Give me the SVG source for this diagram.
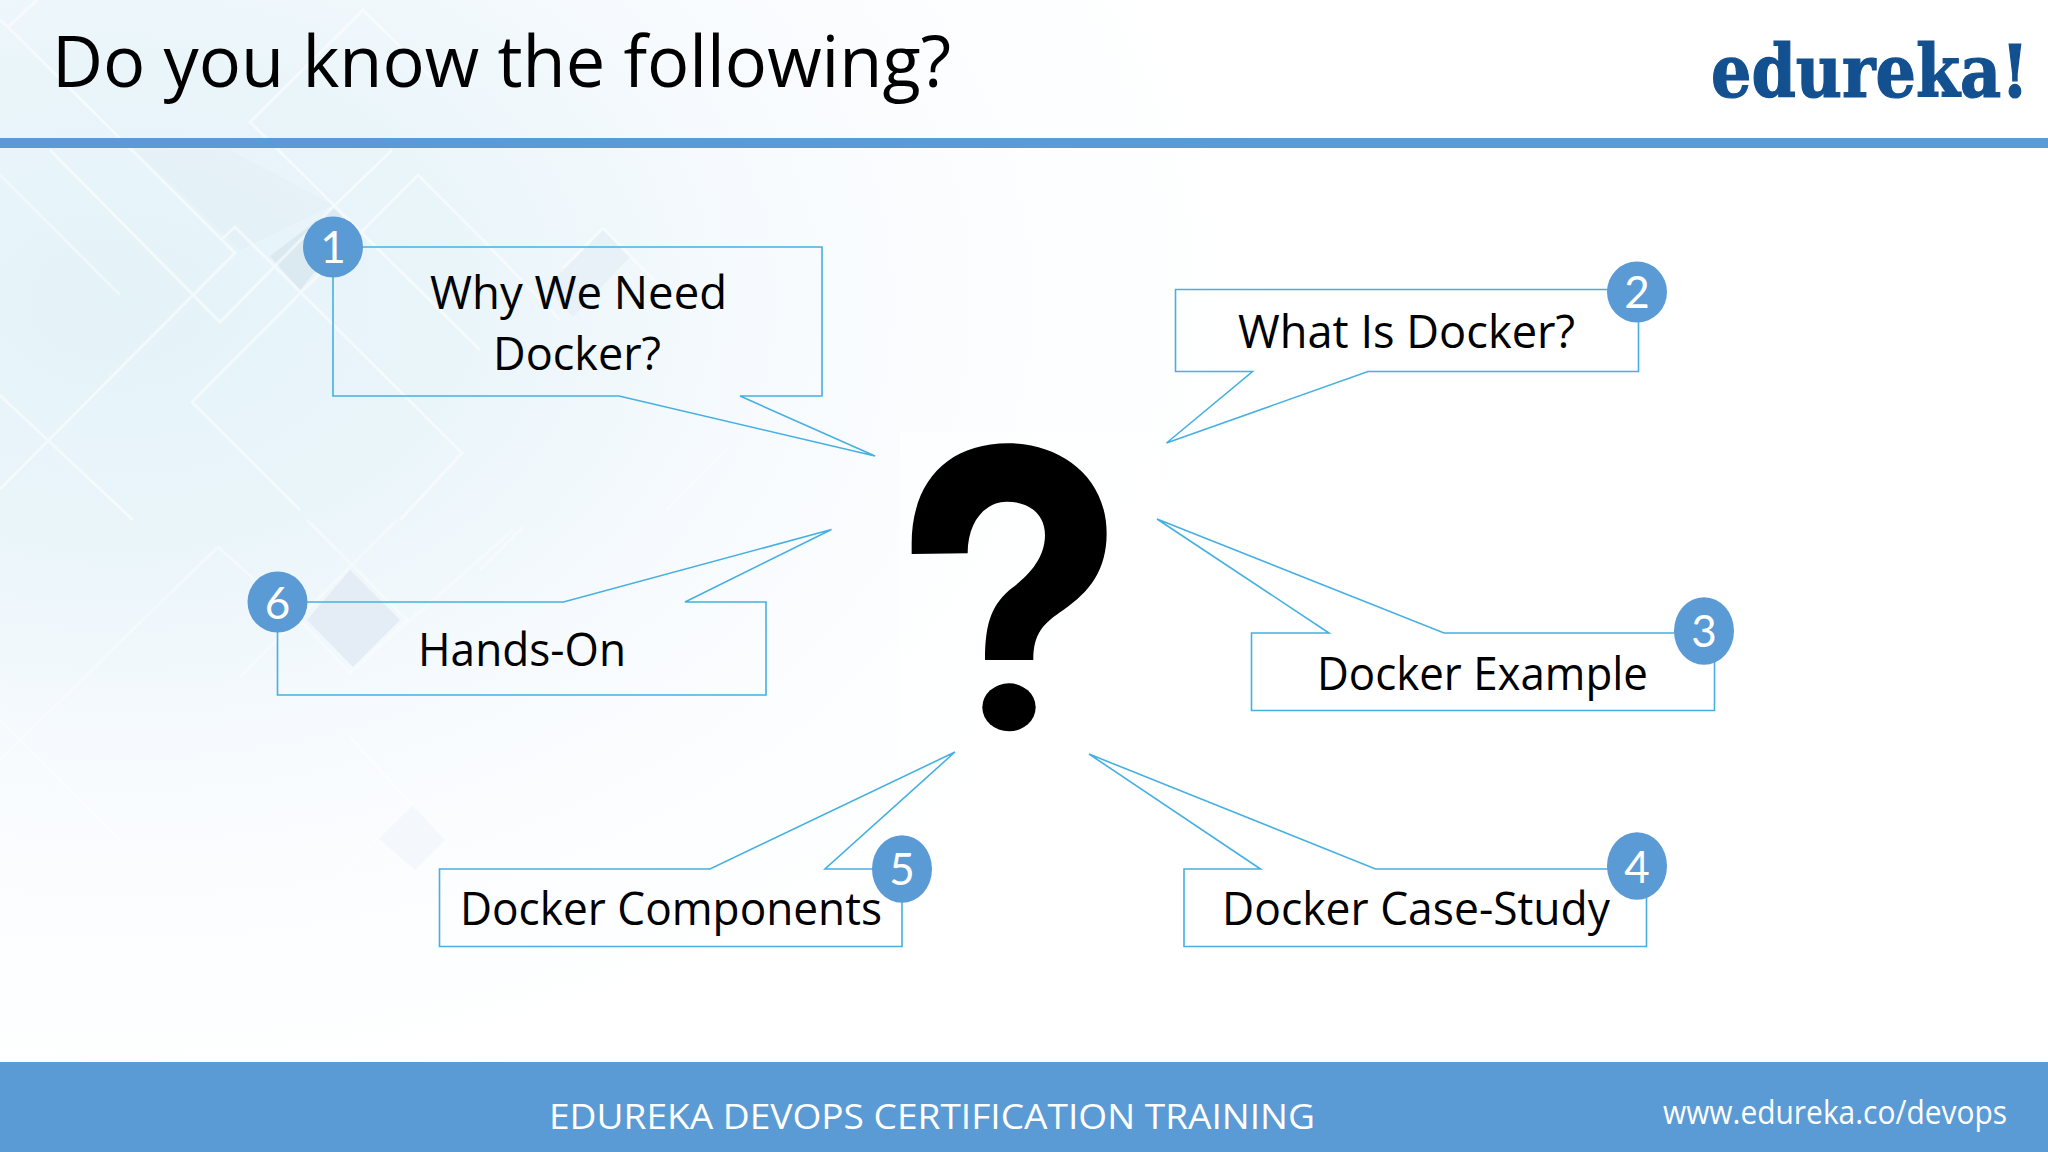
<svg xmlns="http://www.w3.org/2000/svg" width="2048" height="1152" viewBox="0 0 2048 1152">
<style>
.c{fill:none;stroke:#45b0e1;stroke-width:1.6}
.t{font-family:"Open Sans","Noto Sans",sans-serif;font-size:45px;fill:#000}
.n{font-family:"Lato","Noto Sans",sans-serif;font-size:44px;fill:#fff;text-anchor:middle}
.b{fill:#5b9bd5}
.d{fill:none;stroke:#fff;stroke-width:3}
</style>
<defs>
<radialGradient id="bg" gradientUnits="userSpaceOnUse" cx="120" cy="300" r="1150" gradientTransform="translate(0 90) scale(1 .7)">
<stop offset="0" stop-color="#e4f3f8"/><stop offset=".3" stop-color="#eaf5fa"/><stop offset=".6" stop-color="#f8fbfe"/><stop offset=".85" stop-color="#fdfeff"/><stop offset="1" stop-color="#fff"/>
</radialGradient>
</defs>
<rect width="2048" height="1152" fill="#fff"/>
<rect width="2048" height="1062" fill="url(#bg)"/>
<g id="background">
<path fill="#dbe7ef" opacity=".2" d="M230 150L333 205L240 250L135 150Z"/>
<path fill="#d3e1ea" opacity=".6" d="M333 208L352 226L300 290L270 256Z"/>
<path fill="#e1e9f3" opacity=".45" d="M603 230L630 257L573 317L547 287Z"/>
<path fill="#e2ebf5" opacity=".9" d="M350 570L400 620L353 667L307 620Z"/>
<path fill="#eef3f9" opacity=".5" d="M412 805L445 840L415 870L378 838Z"/>
<g opacity=".55">
<path class="d" d="M0 20L8 27L235 253L7 482L0 489M8 27L37 0"/>
<path class="d" d="M50 150L220 322L333 207L392 150"/>
<path class="d" d="M223 238L235 227L462 453L400 520"/>
<path class="d" d="M300 510L192 402L418 175L480 237L560 320"/>
<path class="d" d="M0 395L7 402L133 520"/>
<path class="d" d="M437 83L363 10L250 122L480 350"/>
<path class="d" d="M603 228L563 268M603 228L680 307"/>
</g>
<g opacity=".4">
<path class="d" d="M397 520L240 677M307 520L407 620L350 673L300 620M350 673L513 530"/>
<path class="d" d="M218 547L160 603L0 760M218 547L300 620M728 447L667 510M523 527L480 570"/>
<path class="d" d="M350 737L412 805L277 937M707 777L647 840M0 720L120 840"/>
<path class="d" d="M0 175L120 295"/>
</g>
</g>
<rect x="900" y="432" width="260" height="330" fill="#fff" opacity=".5"/>
<rect class="b" y="138" width="2048" height="10"/>
<rect class="b" y="1062" width="2048" height="90"/>
<text id="title" x="52" y="87" font-family="'Open Sans','Noto Sans',sans-serif" font-size="71" textLength="899" lengthAdjust="spacingAndGlyphs">Do you know the following?</text>
<text id="logo" x="1711" y="97" font-family="'DejaVu Serif Condensed','DejaVu Serif',serif" font-weight="700" font-size="72" fill="#12508f" stroke="#12508f" stroke-width="1.200" textLength="318" lengthAdjust="spacingAndGlyphs">edureka!</text>
<g id="question-mark" transform="translate(880 420) scale(.3333)">
<path d="M95 402L263 400C263 300 320 245 380 245C450 245 495 285 495 345C495 420 440 470 395 505C340 550 315 600 315 720L460 720C460 640 490 610 550 570C630 515 680 450 680 340C680 170 540 70 385 70C200 70 95 190 95 370Z"/>
<ellipse cx="387" cy="862" rx="80" ry="72"/>
</g>
<g id="connectors">
<path class="c" d="M333 247H822V396H740L875 456L619 396H333Z"/>
<path class="c" d="M1175.500 289.500H1638.500V371.500H1368L1166.500 443L1252.500 371.500H1175.500Z"/>
<path class="c" d="M1251.500 633H1329L1157 519L1444 633H1714.500V710.500H1251.500Z"/>
<path class="c" d="M1184 869H1260.500L1089 754L1375.500 869H1646.500V946.500H1184Z"/>
<path class="c" d="M439.500 869H710L955 752L825 869H902V946.500H439.500Z"/>
<path class="c" d="M277.500 602H563.500L831.500 529.500L685 602H766V695H277.500Z"/>
</g>
<g id="node-1"><ellipse class="b" cx="333" cy="247" rx="30" ry="30.500"/><text class="n" x="333" y="263">1</text><text class="t" x="430" y="309" textLength="297" lengthAdjust="spacingAndGlyphs">Why We Need</text><text class="t" x="493" y="370" textLength="168" lengthAdjust="spacingAndGlyphs">Docker?</text></g>
<g id="node-2"><ellipse class="b" cx="1637" cy="292" rx="30" ry="30.500"/><text class="n" x="1637" y="308">2</text><text class="t" x="1238" y="348" textLength="337" lengthAdjust="spacingAndGlyphs">What Is Docker?</text></g>
<g id="node-3"><ellipse class="b" cx="1704" cy="631" rx="30" ry="33.800"/><text class="n" x="1704" y="647">3</text><text class="t" x="1317" y="690" textLength="331" lengthAdjust="spacingAndGlyphs">Docker Example</text></g>
<g id="node-4"><ellipse class="b" cx="1637" cy="866" rx="30" ry="33.800"/><text class="n" x="1637" y="883">4</text><text class="t" x="1222" y="925" textLength="388" lengthAdjust="spacingAndGlyphs">Docker Case-Study</text></g>
<g id="node-5"><ellipse class="b" cx="902" cy="869" rx="30" ry="33.800"/><text class="n" x="902" y="885">5</text><text class="t" x="460" y="925" textLength="422" lengthAdjust="spacingAndGlyphs">Docker Components</text></g>
<g id="node-6"><ellipse class="b" cx="277.500" cy="602" rx="30" ry="30.500"/><text class="n" x="277.500" y="619">6</text><text class="t" x="418" y="666" textLength="208" lengthAdjust="spacingAndGlyphs">Hands-On</text></g>
<text id="footer" x="549" y="1129" font-family="'Open Sans',sans-serif" font-size="35" fill="#fff" textLength="766" lengthAdjust="spacingAndGlyphs">EDUREKA DEVOPS CERTIFICATION TRAINING</text>
<text id="url" x="1663" y="1124" font-family="'Open Sans',sans-serif" font-size="32" fill="#fff" textLength="344" lengthAdjust="spacingAndGlyphs">www.edureka.co/devops</text>
</svg>
